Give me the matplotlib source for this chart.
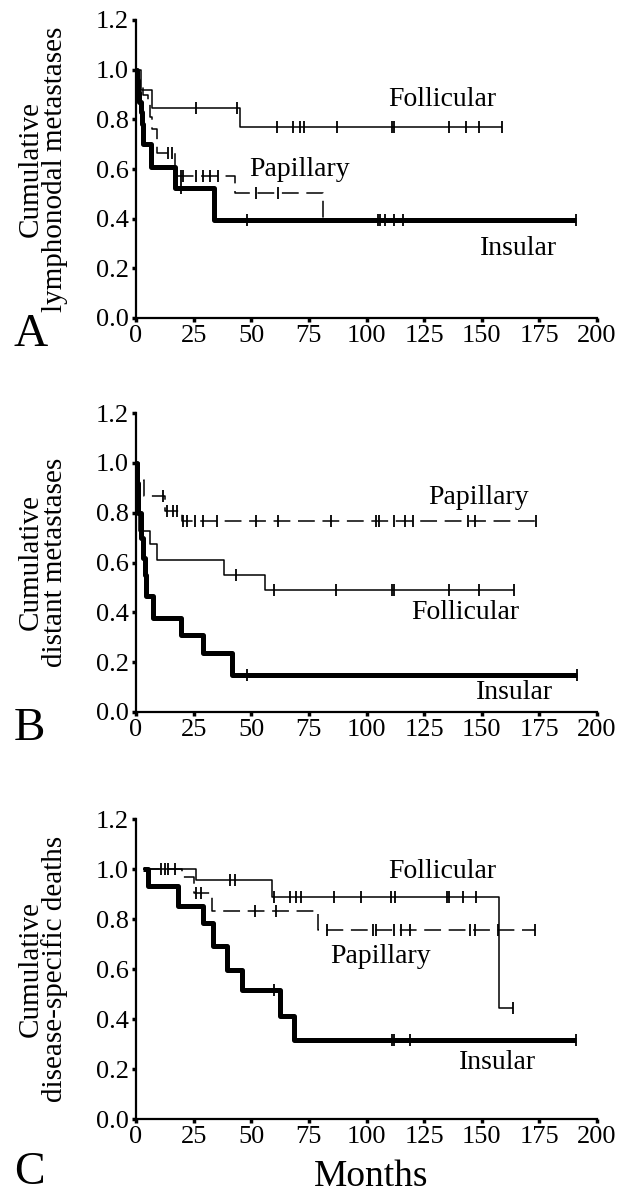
import numpy as np
import matplotlib
matplotlib.use('Agg')
import matplotlib.pyplot as plt

plt.rcParams['font.family'] = ['Liberation Serif', 'DejaVu Serif']

# panel A - lymphonodal metastases
fol_a_t = [0, 2, 7, 45]
fol_a_s = [1.0, 0.92, 0.846, 0.77]
fol_a_cens = [26, 44, 61, 68, 71, 73, 87, 111, 112, 136, 143, 149, 159]
pap_a_t = [0, 1, 3, 5, 6, 7, 9, 17, 43, 81]
pap_a_s = [1.0, 0.95, 0.90, 0.86, 0.81, 0.76, 0.665, 0.573, 0.505, 0.38]
pap_a_cens = [14, 15.6, 19.4, 20.5, 26, 29.2, 32, 35.7, 52, 61.6]
ins_a_t = [0, 0.5, 1, 1.5, 2, 2.5, 3, 6.5, 17, 34]
ins_a_s = [1.0, 0.96, 0.91, 0.87, 0.83, 0.78, 0.70, 0.61, 0.524, 0.395]
ins_a_cens = [19.4, 48, 105, 106, 108, 112, 116, 191]

# panel B - distant metastases
fol_b_t = [0, 0.5, 1.2, 6, 9, 38, 56]
fol_b_s = [1.0, 0.85, 0.725, 0.675, 0.611, 0.55, 0.49]
fol_b_cens = [43.6, 60, 86.6, 111, 112, 135.7, 148.7, 164]
pap_b_t = [0, 1.5, 3.5, 12.5, 20]
pap_b_s = [1.0, 0.933, 0.866, 0.808, 0.765]
pap_b_cens = [11.8, 13.5, 16, 17.6, 20.5, 22, 25.6, 29.2, 35, 52, 61.5, 84.6,
              104.3, 105.5, 112, 116.6, 120, 144, 147, 173.6]
ins_b_t = [0, 0.5, 1, 2, 3, 4, 4.5, 7.5, 19.5, 29, 41.5]
ins_b_s = [1.0, 0.92, 0.80, 0.70, 0.62, 0.55, 0.465, 0.377, 0.31, 0.236, 0.15]
ins_b_cens = [48, 191.5]

# panel C - disease-specific deaths
fol_c_t = [3, 26, 58.8, 157.3]
fol_c_s = [1.0, 0.956, 0.89, 0.446]
fol_c_cens = [11, 12.6, 14, 17, 40.7, 43, 60, 66.8, 69.6, 71.8, 85.8, 97.8,
              110.8, 112.2, 135, 136, 141.8, 147.7, 163.4]
pap_c_t = [3, 20, 25, 33, 79]
pap_c_s = [1.0, 0.968, 0.906, 0.833, 0.755]
pap_c_cens = [26, 28, 51.6, 60.7, 83, 102.7, 104, 112, 115, 118.8, 144.8,
              147, 157, 173]
ins_c_t = [3, 5, 18.3, 29.2, 33.5, 39.3, 45.8, 62.4, 68.5]
ins_c_s = [1.0, 0.933, 0.853, 0.786, 0.692, 0.598, 0.518, 0.411, 0.317]
ins_c_cens = [60, 111, 112, 119, 191]

y_ticks = [0.0, 0.2, 0.4, 0.6, 0.8, 1.0, 1.2]
x_ticks = [0, 25, 50, 75, 100, 125, 150, 175, 200]

W, H = 641, 1197
fig = plt.figure(figsize=(W / 100, H / 100), dpi=100)


def km(ax, t, s, cens, lw, dashes=None, end_cens=True, msize=8):
    t = list(t)
    s = list(s)
    if end_cens:
        t = t + [max(cens)]
        s = s + [s[-1]]
    line, = ax.step(t, s, where='post', color='black', lw=lw,
                    solid_capstyle='butt', zorder=3)
    if dashes:
        line.set_dashes(dashes)
    idx = np.searchsorted(np.array(t), np.array(cens), side='right') - 1
    cs = np.array(s)[idx]
    ax.plot(cens, cs, ls='none', marker='|', color='black', ms=msize,
            mew=1.3, zorder=4)


def setup(ax, ylab):
    ax.set_xlim(0, 200)
    ax.set_ylim(0, 1.2)
    ax.set_xticks(x_ticks)
    ax.set_yticks(y_ticks)
    ax.set_yticklabels(['%.1f' % v for v in y_ticks])
    ax.spines['top'].set_visible(False)
    ax.spines['right'].set_visible(False)
    for sp in ['left', 'bottom']:
        ax.spines[sp].set_linewidth(1.6)
    ax.tick_params(direction='out', length=3, width=2.5, labelsize=19, pad=2)
    ax.set_ylabel(ylab, fontsize=21, linespacing=0.88)
    ax.yaxis.set_label_coords(-0.148, 0.5)


def add_axes(top_px, bottom_px):
    left, right = 136, 597
    return fig.add_axes([left / W, 1 - bottom_px / H, (right - left) / W,
                         (bottom_px - top_px) / H])


# A
ax = add_axes(20, 318)
setup(ax, 'Cumulative\nlymphonodal metastases')
km(ax, fol_a_t, fol_a_s, fol_a_cens, 1.1)
km(ax, pap_a_t, pap_a_s, pap_a_cens, 1.1, dashes=(11, 5), end_cens=False)
km(ax, ins_a_t, ins_a_s, ins_a_cens, 3.6, msize=9)
ax.text(133, 0.88, 'Follicular', fontsize=20, ha='center', va='center')
ax.text(71, 0.60, 'Papillary', fontsize=20, ha='center', va='center')
ax.text(166, 0.28, 'Insular', fontsize=20, ha='center', va='center')

# B
ax = add_axes(413, 712)
setup(ax, 'Cumulative\ndistant metastases')
km(ax, fol_b_t, fol_b_s, fol_b_cens, 1.1)
km(ax, pap_b_t, pap_b_s, pap_b_cens, 1.1, dashes=(11, 5))
km(ax, ins_b_t, ins_b_s, ins_b_cens, 3.6, msize=9)
ax.text(148.7, 0.86, 'Papillary', fontsize=20, ha='center', va='center')
ax.text(143, 0.40, 'Follicular', fontsize=20, ha='center', va='center')
ax.text(164, 0.08, 'Insular', fontsize=20, ha='center', va='center')

# C
ax = add_axes(819, 1119)
setup(ax, 'Cumulative\ndisease-specific deaths')
km(ax, fol_c_t, fol_c_s, fol_c_cens, 1.1)
km(ax, pap_c_t, pap_c_s, pap_c_cens, 1.1, dashes=(11, 5))
km(ax, ins_c_t, ins_c_s, ins_c_cens, 3.6, msize=9)
ax.text(133, 0.99, 'Follicular', fontsize=20, ha='center', va='center')
ax.text(106, 0.65, 'Papillary', fontsize=20, ha='center', va='center')
ax.text(156.7, 0.225, 'Insular', fontsize=20, ha='center', va='center')

fig.text(14 / W, 1 - 346 / H, 'A', fontsize=34, ha='left', va='baseline')
fig.text(14 / W, 1 - 740 / H, 'B', fontsize=34, ha='left', va='baseline')
fig.text(14 / W, 1 - 1184 / H, 'C', fontsize=33, ha='left', va='baseline')
fig.text(371 / W, 1 - 1186 / H, 'Months', fontsize=27, ha='center',
         va='baseline')

fig.savefig('out.png', dpi=100)
